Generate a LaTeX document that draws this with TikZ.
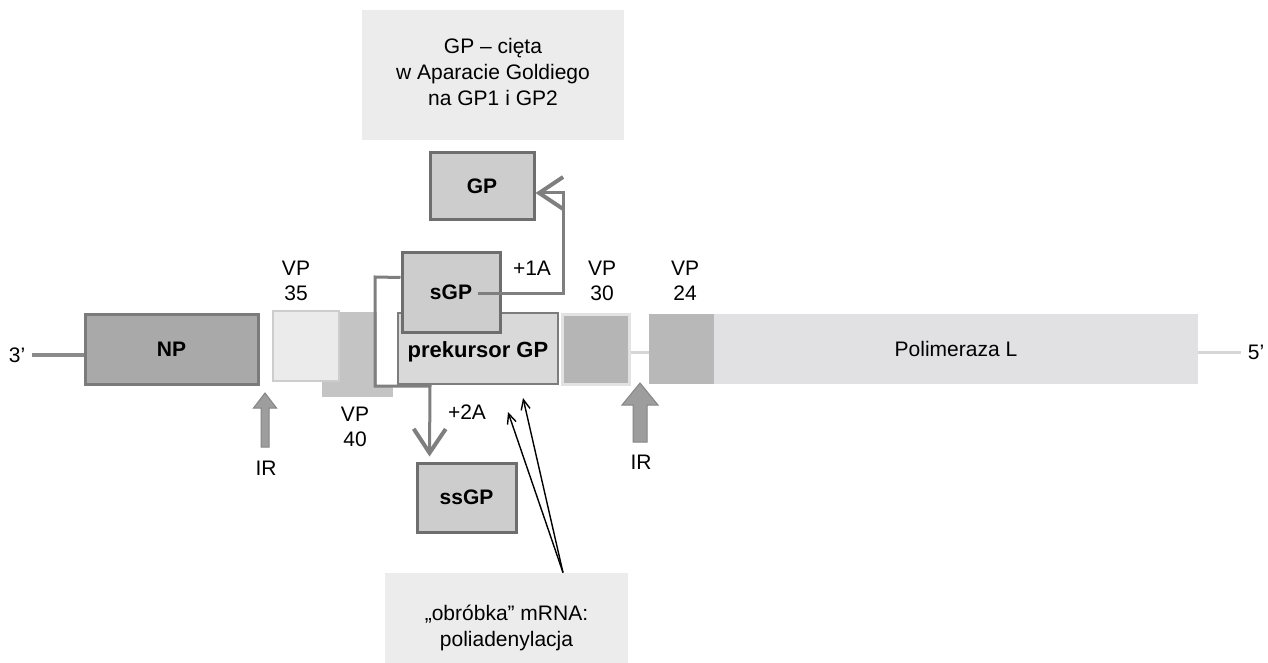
\documentclass[tikz,border=0pt]{standalone}
\usepackage{fontspec}
\setmainfont{Liberation Sans}
\usepackage{tikz}
\usetikzlibrary{arrows.meta,positioning}
\definecolor{notecolor}{RGB}{236,236,237}
\definecolor{protfill}{RGB}{205,205,205}
\definecolor{protborder}{RGB}{110,110,110}
\definecolor{prefill}{RGB}{217,217,218}
\definecolor{preborder}{RGB}{125,125,125}
\definecolor{npfill}{RGB}{169,169,169}
\definecolor{npborder}{RGB}{123,123,123}
\definecolor{vp35fill}{RGB}{235,235,236}
\definecolor{vp35border}{RGB}{205,205,205}
\definecolor{vp40fill}{RGB}{196,196,196}
\definecolor{vp30fill}{RGB}{181,181,181}
\definecolor{vp30border}{RGB}{226,226,226}
\definecolor{vp24fill}{RGB}{184,184,184}
\definecolor{polfill}{RGB}{225,225,227}
\definecolor{arrowgray}{RGB}{127,127,127}
\definecolor{irfill}{RGB}{157,157,157}
\definecolor{irborder}{RGB}{133,133,133}
\definecolor{endgray}{RGB}{138,138,138}
\definecolor{linkgray}{RGB}{214,214,214}
\tikzset{
  note box/.style={
    fill=notecolor,
    draw=none,
    align=center,
    inner sep=0pt,
    font=\fontsize{10.5}{13}\selectfont
  },
  prot box/.style={
    draw=protborder,
    fill=protfill,
    line width=1.5pt,
    inner sep=0pt,
    font=\fontsize{10.5}{12}\selectfont\bfseries
  },
  gene box/.style={
    inner sep=0pt,
    minimum height=35pt,
    font=\fontsize{10.5}{12}\selectfont
  },
  vp label/.style={
    align=center,
    font=\fontsize{10.5}{12.5}\selectfont
  },
  plain label/.style={
    font=\fontsize{10.5}{12}\selectfont
  },
  proc arrow/.style={
    draw=arrowgray,
    line width=1.5pt,
    -{Straight Barb[length=12pt,width=16pt,line width=2pt]}
  },
  thin arrow/.style={
    ->,
    >={Straight Barb[length=5pt,width=4.5pt]},
    line width=0.7pt
  },
  ir arrow/.style={
    fill=irfill,
    draw=irborder,
    line width=0.5pt
  }
}

\begin{document}
\begin{tikzpicture}[x=0.5pt, y=-0.5pt]
  \useasboundingbox (0,0) rectangle (1268,663);

  % Notes
  \node[note box, minimum width=131pt, minimum height=65pt] (note1) at (493,75) {};
  \node[note box] (note1text) at (493,72) {GP -- cięta\\w Aparacie Goldiego\\na GP1 i GP2};
  \node[note box, minimum width=121.5pt, minimum height=56pt] (note2) at (506.5,629) {};
  \node[note box] (note2text) at (506.5,628) {„obróbka” mRNA:\\poliadenylacja};

  % Genome segments
  \node[gene box, fill=vp40fill, minimum width=35.5pt, minimum height=42.5pt] (VP40) at (357.5,354.5) {};
  \node[gene box, fill=npfill, draw=npborder, line width=1.5pt, minimum width=86.5pt,
        font=\fontsize{10.5}{12}\selectfont\bfseries] (NP) at (171.5,349) {NP};
  \node[gene box, fill=vp35fill, draw=vp35border, line width=1pt, minimum width=33pt] (VP35) at (306,346) {};
  \node[gene box, fill=vp30fill, draw=vp30border, line width=1.5pt, minimum width=33.5pt] (VP30) at (595.5,349) {};
  \node[gene box, fill=vp24fill, minimum width=32.5pt] (VP24) at (681.5,349) {};
  \node[gene box, fill=polfill, minimum width=242pt] (Pol) at (956,349) {Polimeraza L};

  % Ends
  \node[plain label] (three) at (17,355) {3’};
  \node[plain label] (five) at (1256,352) {5’};
  \draw[endgray, line width=2pt] (three.east) -- (three.east -| NP.west);
  \draw[linkgray, line width=1.5pt] (Pol.east |- five.west) -- (five.west);
  \draw[linkgray, line width=1.5pt] ([yshift=-1.5pt]VP30.east) -- ([yshift=-1.5pt]VP24.west);

  % GP gene
  \fill[white] (377,279) rectangle (395,385);
  \node[prot box, fill=prefill, draw=preborder, line width=1.2pt,
        minimum width=80pt, minimum height=35.5pt] (pre) at (478,348.5) {};
  \node[font=\fontsize{11}{12}\selectfont\bfseries] (pretext) at (478,352) {prekursor GP};
  \node[prot box, minimum width=49pt, minimum height=40pt] (sGP) at (451,292.5) {sGP};
  \node[prot box, minimum width=52pt, minimum height=33.5pt] (GP) at (482,186.5) {GP};
  \node[prot box, minimum width=49.5pt, minimum height=34.5pt] (ssGP) at (466.5,497.5) {ssGP};

  % Products
  \coordinate (sGPout) at (478,293);
  \draw[proc arrow] (sGPout) -- (563,293) |- ([yshift=-3.25pt]GP.east);
  \draw[proc arrow] ([yshift=7.5pt]sGP.west) -- (375,277) -- (375,386) -- (430,386)
    -- ([xshift=7pt,yshift=2.5pt]ssGP.north west);
  \node[plain label] (plus1) at (532,268) {+1A};
  \node[plain label] (plus2) at (467,412) {+2A};

  % Polyadenylation
  \coordinate (polyA) at (508,412);
  \coordinate (polyB) at (523,398);
  \draw[thin arrow] ([xshift=28.25pt]note2.north) -- (polyA);
  \draw[thin arrow] ([xshift=28.25pt]note2.north) -- (polyB);

  % Intergenic regions
  \draw[ir arrow] (265,393) -- (276.5,408) -- (269,408) -- (269,447) -- (261,447) -- (261,408) -- (253.5,408) -- cycle;
  \draw[ir arrow] (640,383) -- (658,405) -- (647,405) -- (647,442) -- (633,442) -- (633,405) -- (622,405) -- cycle;
  \node[plain label] (ir1) at (266,468) {IR};
  \node[plain label] (ir2) at (641,462) {IR};

  % VP labels
  \node[vp label] (l35) at (296,281) {VP\\35};
  \node[vp label] (l40) at (355,427) {VP\\40};
  \node[vp label] (l30) at (602,281) {VP\\30};
  \node[vp label] (l24) at (685,281) {VP\\24};

\end{tikzpicture}
\end{document}
